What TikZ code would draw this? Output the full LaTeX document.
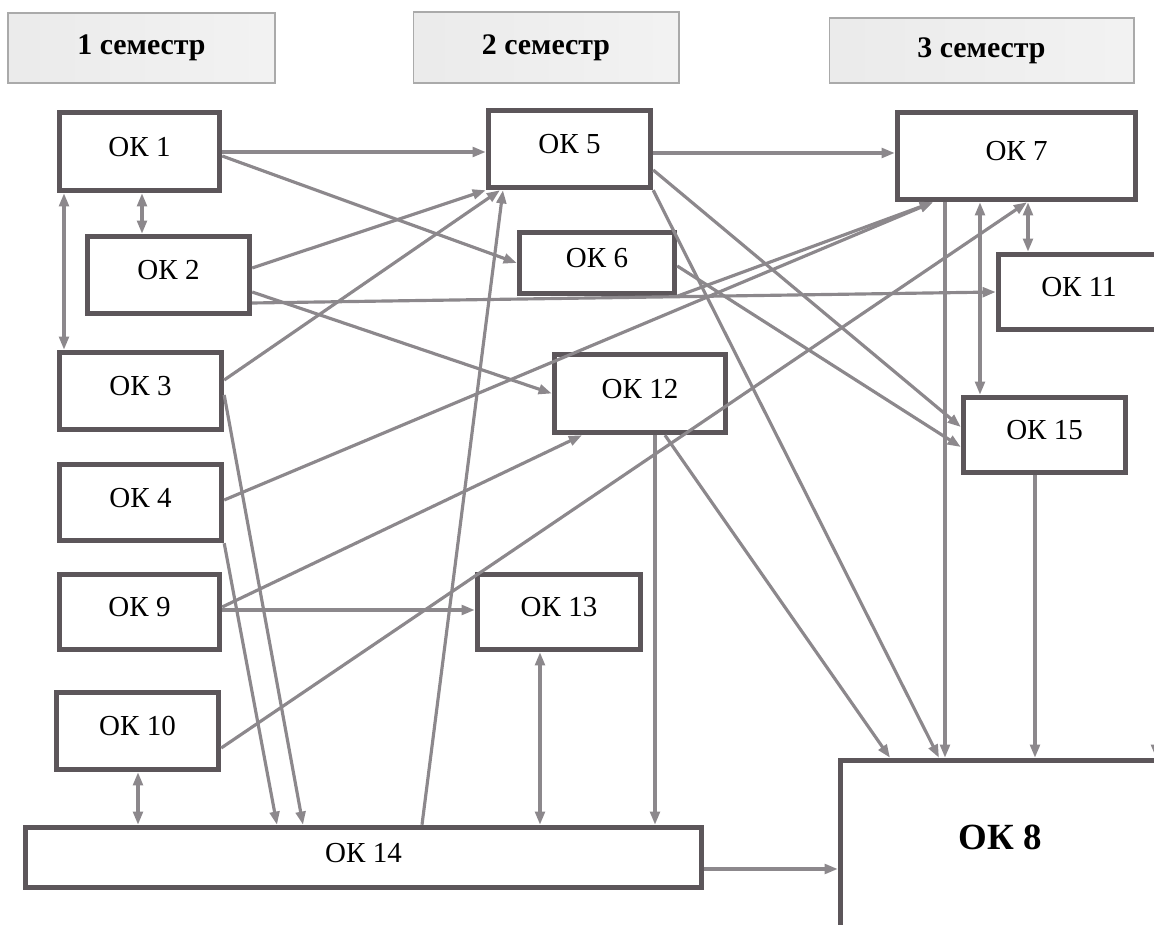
\documentclass[tikz,border=0pt]{standalone}
\usepackage{fontspec}
\setmainfont{Liberation Serif}
\usetikzlibrary{arrows.meta}
\definecolor{boxgray}{RGB}{92,86,90}
\definecolor{linegray}{RGB}{140,136,140}
\definecolor{headgray}{RGB}{170,170,170}

\begin{document}
\begin{tikzpicture}[x=0.02cm, y=-0.02cm,
    >={Triangle[length=7.5pt,width=5.5pt]},
    ok/.style={draw=boxgray, line width=3.1pt, fill=white, inner sep=0pt,
        text height=11.5pt, text depth=6pt, font=\fontsize{16.5}{20}\selectfont},
    sem/.style={draw=headgray, line width=0.6pt, left color=gray!16, middle color=white,
        right color=gray!10, font=\bfseries\fontsize{17}{20}\selectfont},
    conn/.style={draw=linegray, line width=1.8pt}]

    \useasboundingbox (0,0) rectangle (1154,925);

    % semesters
    \node[sem, minimum width=5.34cm, minimum height=1.4cm] (S1) at (141.5,48) {1 семестр};
    \node[sem, minimum width=5.32cm, minimum height=1.42cm] (S2) at (546,47.5) {2 семестр};
    \node[sem, minimum width=6.1cm, minimum height=1.3cm] (S3) at (981.5,50.5) {3 семестр};

    % first column
    \node[ok, minimum width=3.2cm, minimum height=1.56cm] (OK1) at (139.5,151.5) {ОК 1};
    \node[ok, minimum width=3.24cm, minimum height=1.54cm] (OK2) at (168.5,275) {ОК 2};
    \node[ok, minimum width=3.24cm, minimum height=1.54cm] (OK3) at (140.5,391) {ОК 3};
    \node[ok, minimum width=3.24cm, minimum height=1.52cm] (OK4) at (140.5,502.5) {ОК 4};
    \node[ok, minimum width=3.2cm, minimum height=1.5cm] (OK9) at (139.5,612) {ОК 9};
    \node[ok, minimum width=3.24cm, minimum height=1.54cm] (OK10) at (137.5,731) {ОК 10};
    \node[ok, minimum width=13.52cm, minimum height=1.2cm] (OK14) at (363.5,857.5) {ОК 14};

    % second column
    \node[ok, minimum width=3.24cm, minimum height=1.54cm] (OK5) at (569.5,149) {ОК 5};
    \node[ok, minimum width=3.1cm, minimum height=1.22cm] (OK6) at (597,263) {ОК 6};
    \node[ok, minimum width=3.42cm, minimum height=1.56cm] (OK12) at (640,393.5) {ОК 12};
    \node[ok, minimum width=3.26cm, minimum height=1.5cm] (OK13) at (559,612) {ОК 13};

    % third column
    \node[ok, minimum width=4.76cm, minimum height=1.74cm] (OK7) at (1016.5,156) {ОК 7};
    \node[ok, minimum width=3.22cm, minimum height=1.5cm] (OK11) at (1079,292) {ОК 11};
    \node[ok, minimum width=3.24cm, minimum height=1.5cm] (OK15) at (1044.5,435) {ОК 15};
    \node[ok, minimum width=6.38cm, minimum height=3.38cm,
        font=\bfseries\fontsize{21}{24}\selectfont] (OK8) at (1000,845) {ОК 8};

    % links
    \draw[conn,->] (OK1.east |- 0,152) -- (OK5.west |- 0,152);
    \draw[conn,->] (OK1.east |- 0,156) -- (OK6.west);
    \draw[conn,<->] (142,0 |- OK1.south) -- (142,0 |- OK2.north);
    \draw[conn,<->] (64,0 |- OK1.south) -- (64,0 |- OK3.north);
    \draw[conn,->] (OK2.east |- 0,268) -- (OK5.south west);
    \draw[conn,->] (OK2.east |- 0,292) -- (OK12.west);
    \draw[conn,->] (OK2.east |- 0,303) -- (OK11.west);
    \draw[conn,->] (OK3.east |- 0,380) -- (500,0 |- OK5.south);
    \draw[conn,->] (OK3.east |- 0,395) -- (303,0 |- OK14.north);
    \draw[conn,->] (OK4.east |- 0,500) -- (933,0 |- OK7.south);
    \draw[conn,->] (OK4.south east) -- (277,0 |- OK14.north);
    \draw[conn,->] (OK9.east |- 0,607) -- (582,0 |- OK12.south);
    \draw[conn,->] (OK9.east |- 0,610) -- (OK13.west |- 0,610);
    \draw[conn,->] (OK10.east |- 0,748) -- (1027,0 |- OK7.south);
    \draw[conn,<->] (138,0 |- OK10.south) -- (138,0 |- OK14.north);
    \draw[conn,->] (422,0 |- OK14.north) -- (503,0 |- OK5.south);
    \draw[conn,<->] (540,0 |- OK13.south) -- (540,0 |- OK14.north);
    \draw[conn,->] (655,0 |- OK12.south) -- (655,0 |- OK14.north);
    \draw[conn,->] (OK14.east |- 0,869) -- (OK8.west |- 0,869);
    \draw[conn,->] (OK5.east |- 0,153) -- (OK7.west |- 0,153);
    \draw[conn,->] (OK5.east |- 0,170) -- (OK15.west |- 0,427);
    \draw[conn,->] (OK5.south east) -- (939,0 |- OK8.north);
    \draw[conn,->] (OK6.south east) -- (933,0 |- OK7.south);
    \draw[conn,->] (OK6.east |- 0,266) -- (OK15.west |- 0,447);
    \draw[conn,->] (665,0 |- OK12.south) -- (890,0 |- OK8.north);
    \draw[conn,->] (945,0 |- OK7.south) -- (945,0 |- OK8.north);
    \draw[conn,<->] (980,0 |- OK7.south) -- (980,0 |- OK15.north);
    \draw[conn,<->] (1028,0 |- OK7.south) -- (1028,0 |- OK11.north);
    \draw[conn,->] (1035,0 |- OK15.south) -- (1035,0 |- OK8.north);
    \draw[conn,->] (1156,0 |- OK11.south) -- (1156,0 |- OK8.north);

\end{tikzpicture}
\end{document}
